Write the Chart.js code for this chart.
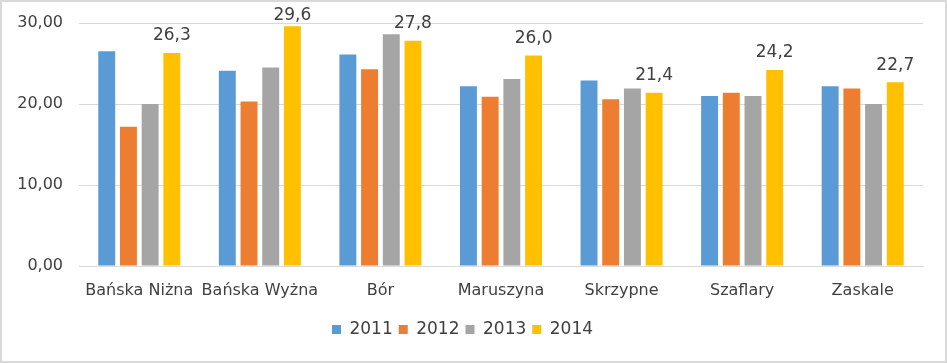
<!DOCTYPE html>
<html>
<head>
<meta charset="utf-8">
<script src="https://cdn.jsdelivr.net/npm/chart.js@4"></script>
<style>
    html, body { margin: 0; padding: 0; background: #fff; }
    #wrap {
        position: relative;
        width: 943px;
        height: 359px;
        border: 2px solid #d9d9d9;
        background: #fff;
    }
</style>
</head>
<body>
<div id="wrap"><canvas id="chart"></canvas></div>
<script>
const categories = ['Bańska Niżna', 'Bańska Wyżna', 'Bór', 'Maruszyna', 'Skrzypne', 'Szaflary', 'Zaskale'];
const years = ['2011', '2012', '2013', '2014'];
const values2011 = [26.5, 24.1, 26.1, 22.2, 22.9, 21.0, 22.2];
const values2012 = [17.2, 20.3, 24.3, 20.9, 20.6, 21.4, 21.9];
const values2013 = [20.0, 24.5, 28.6, 23.1, 21.9, 21.0, 20.0];
const values2014 = [26.3, 29.6, 27.8, 26.0, 21.4, 24.2, 22.7];
const yTicks = [0, 10, 20, 30];

const colors = ['#5b9bd5', '#ed7d31', '#a5a5a5', '#ffc000'];
const fontFamily = 'Tahoma, "DejaVu Sans", Verdana, sans-serif';
const textColor = '#404040';

// labels only for the last series, like the original
const valueLabels = {
    id: 'valueLabels',
    afterDatasetsDraw(chart) {
        const ctx = chart.ctx;
        const meta = chart.getDatasetMeta(3);
        ctx.save();
        ctx.font = '17px ' + fontFamily;
        ctx.fillStyle = textColor;
        ctx.textAlign = 'center';
        ctx.textBaseline = 'middle';
        meta.data.forEach((bar, i) => {
            const txt = values2014[i].toFixed(1).replace('.', ',');
            // keep the tallest label inside the top edge
            ctx.fillText(txt, bar.x, Math.max(bar.y - 17, 14));
        });
        ctx.restore();
    }
};

const datasets = [values2011, values2012, values2013, values2014].map((vals, i) => ({
    label: years[i],
    data: vals,
    backgroundColor: colors[i],
    borderWidth: 0,
    categoryPercentage: 0.72,
    barPercentage: 0.78
}));

new Chart(document.getElementById('chart'), {
    type: 'bar',
    data: { labels: categories, datasets: datasets },
    options: {
        responsive: true,
        maintainAspectRatio: false,
        animation: false,
        layout: { padding: { top: 21, right: 22, left: 0, bottom: 13 } },
        plugins: {
            legend: {
                position: 'bottom',
                labels: {
                    boxWidth: 9,
                    boxHeight: 9,
                    padding: 6,
                    color: textColor,
                    font: { family: fontFamily, size: 17 }
                }
            },
            tooltip: { enabled: false }
        },
        scales: {
            x: {
                grid: { display: false, drawTicks: false },
                border: { color: '#d9d9d9' },
                afterFit: (scale) => { scale.height = 49; },
                ticks: {
                    color: textColor,
                    padding: 15,
                    maxRotation: 0,
                    autoSkip: false,
                    font: { family: fontFamily, size: 16 }
                }
            },
            y: {
                min: 0,
                max: 30,
                afterBuildTicks: (scale) => {
                    scale.ticks = yTicks.map(v => ({ value: v }));
                },
                afterFit: (scale) => {
                    scale.width = 77;
                    scale.paddingTop = 0;
                    scale.paddingBottom = 0;
                },
                grid: { color: '#d9d9d9', drawTicks: false },
                border: { display: false },
                ticks: {
                    color: textColor,
                    padding: 16,
                    font: { family: fontFamily, size: 16 },
                    callback: (v) => v.toFixed(2).replace('.', ',')
                }
            }
        }
    },
    plugins: [valueLabels]
});
</script>
</body>
</html>
